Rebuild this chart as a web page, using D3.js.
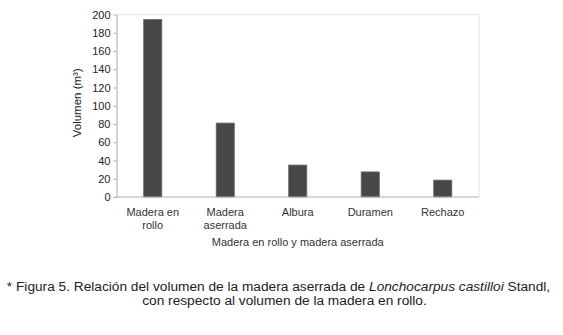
<!DOCTYPE html>
<html><head><meta charset="utf-8">
<script src="https://cdn.jsdelivr.net/npm/d3@7/dist/d3.min.js"></script>
<style>body{margin:0;background:#fff;}svg{display:block;font-family:"Liberation Sans",Arial,sans-serif;}</style>
</head><body>
<svg id="c" width="563" height="335"></svg>
<script>
const categories = [["Madera en","rollo"],["Madera","aserrada"],["Albura"],["Duramen"],["Rechazo"]];
const values = [194.5, 81, 35, 27.5, 18.5];
const yTicks = [0,20,40,60,80,100,120,140,160,180,200];
const xTitle = "Madera en rollo y madera aserrada";
const yTitle = "Volumen (m³)";

const svg = d3.select("#c");
const L = 116.5, R = 479, T = 14.5, B = 197;
const x = d3.scaleBand().domain(d3.range(categories.length)).range([L, R]).padding(0);
const y = d3.scaleLinear().domain([0, 200]).range([B, T]);

svg.append("path").attr("d", `M${L},${T}H${R}V${B}`).attr("fill","none").attr("stroke","#ececec").attr("stroke-width",1.5);

const bw = x.bandwidth()*0.25;
svg.selectAll("rect.bar").data(values).join("rect").attr("class","bar")
  .attr("x",(d,i)=>x(i)+x.bandwidth()/2-bw/2).attr("width",bw)
  .attr("y",d=>y(d)).attr("height",d=>B-y(d))
  .attr("fill","#474747").attr("stroke","#6a6a6a").attr("stroke-width",0.8);

const ya = svg.append("g").attr("transform",`translate(${L},0)`)
  .call(d3.axisLeft(y).tickValues(yTicks).tickSize(3).tickSizeOuter(0));
ya.select(".domain").attr("stroke","#a8a8a8");
ya.selectAll(".tick line").attr("stroke","#a8a8a8");
ya.selectAll(".tick text").attr("font-size","11px").attr("fill","#222").attr("x",-6).attr("font-family","Liberation Sans, Arial, sans-serif");

svg.append("line").attr("x1",L).attr("x2",R).attr("y1",B).attr("y2",B).attr("stroke","#b0b0b0").attr("stroke-width",1.2);

const xl = svg.append("g");
categories.forEach((c,i)=>{
  const t = xl.append("text").attr("x",x(i)+x.bandwidth()/2).attr("y",216)
    .attr("text-anchor","middle").attr("font-size","11px").attr("fill","#333");
  c.forEach((s,j)=>t.append("tspan").attr("x",x(i)+x.bandwidth()/2).attr("dy",j?13:0).text(s));
});
svg.append("text").attr("x",(L+R)/2).attr("y",246).attr("text-anchor","middle")
  .attr("font-size","11px").attr("fill","#333").text(xTitle);
svg.append("text").attr("transform",`translate(81,${(T+B)/2-3}) rotate(-90)`).attr("text-anchor","middle")
  .attr("font-size","11.5px").attr("fill","#222").text(yTitle);

const cap = svg.append("text").attr("x",278.5).attr("y",291).attr("text-anchor","middle").attr("font-size","13.7px").attr("fill","#222");
cap.append("tspan").text("* Figura 5. Relación del volumen de la madera aserrada de ");
cap.append("tspan").attr("font-style","italic").text("Lonchocarpus castilloi");
cap.append("tspan").text(" Standl,");
svg.append("text").attr("x",284.5).attr("y",305).attr("text-anchor","middle").attr("font-size","13.7px").attr("fill","#222")
  .text("con respecto al volumen de la madera en rollo.");
</script>
</body></html>
